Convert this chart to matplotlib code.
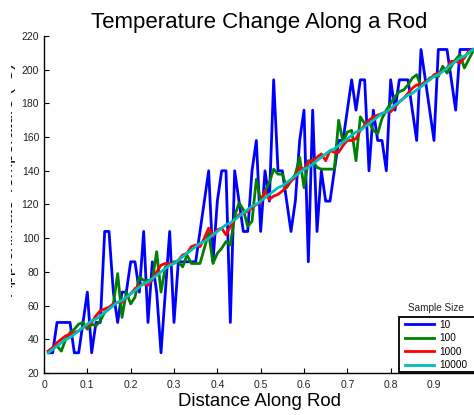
import numpy as np
import matplotlib
matplotlib.use("Agg")
import matplotlib.pyplot as plt
from matplotlib.transforms import Bbox
from matplotlib.patches import Rectangle

plt.rcParams['font.family'] = ['Liberation Sans', 'DejaVu Sans']

# ---- data -------------------------------------------------------------
distance = np.arange(1, 100) / 100.0

temp_n10 = [32, 32, 50, 50, 50, 50, 32, 32, 50, 68,
            32, 50, 50, 104, 104, 68, 50, 68, 68, 86,
            86, 68, 104, 50, 86, 68, 32, 68, 104, 50,
            86, 86, 86, 86, 86, 104, 122, 140, 86, 122,
            140, 140, 50, 140, 122, 104, 104, 140, 158, 104,
            140, 122, 194, 140, 140, 122, 104, 122, 158, 176,
            86, 176, 104, 140, 122, 122, 140, 158, 158, 176,
            194, 176, 194, 194, 140, 176, 158, 158, 140, 194,
            176, 194, 194, 194, 176, 158, 212, 194, 176, 158,
            212, 212, 212, 194, 176, 212, 212, 212, 212]

temp_n100 = [33, 35, 36, 33, 40, 44, 46, 49, 50, 46,
             49, 48, 51, 56, 58, 61, 79, 53, 68, 61,
             65, 77, 75, 75, 75, 92, 68, 83, 84, 86,
             86, 83, 90, 85, 85, 85, 94, 103, 85, 91,
             94, 98, 96, 113, 121, 117, 107, 110, 135, 122,
             128, 133, 141, 138, 138, 130, 134, 138, 148, 130,
             146, 146, 142, 141, 141, 141, 141, 170, 157, 163,
             164, 146, 172, 168, 169, 164, 162, 171, 176, 180,
             184, 187, 188, 191, 195, 197, 190, 192, 195, 196,
             196, 202, 198, 202, 206, 209, 201, 206, 211]

temp_n1000 = [33, 35, 38, 40, 42, 43, 44, 45, 47, 48,
              50, 54, 57, 58, 59, 61, 62, 62, 65, 67,
              70, 72, 73, 72, 76, 80, 84, 85, 85, 85,
              87, 90, 91, 95, 96, 95, 100, 106, 101, 105,
              106, 102, 107, 111, 114, 115, 116, 118, 120, 121,
              128, 123, 125, 126, 128, 131, 134, 136, 142, 141,
              145, 146, 148, 150, 146, 152, 151, 151, 155, 158,
              158, 159, 164, 167, 170, 172, 173, 174, 175, 175,
              178, 181, 183, 186, 189, 191, 191, 193, 194, 197,
              198, 199, 201, 205, 205, 204, 207, 211, 212]

temp_n10000 = [32, 34, 36, 38, 40, 41, 43, 45, 47, 49,
               51, 52, 54, 56, 58, 60, 62, 63, 65, 67,
               69, 71, 73, 74, 76, 78, 80, 82, 84, 85,
               87, 89, 91, 93, 95, 97, 98, 100, 102, 104,
               106, 108, 109, 111, 113, 115, 117, 119, 120, 122,
               124, 126, 128, 130, 131, 133, 135, 137, 139, 141,
               142, 144, 146, 148, 150, 152, 153, 155, 157, 159,
               161, 163, 164, 166, 168, 170, 172, 174, 175, 177,
               179, 181, 183, 185, 186, 188, 190, 192, 194, 196,
               197, 199, 201, 203, 205, 207, 208, 210, 212]

series_labels = ['10', '100', '1000', '10000']
series_colors = ['#0000ff', '#008000', '#ff0000', '#00bfbf']

yticks = list(range(20, 221, 20))
xticks = [0, 0.1, 0.2, 0.3, 0.4, 0.5, 0.6, 0.7, 0.8, 0.9]
xticklabels = ['0', '0.1', '0.2', '0.3', '0.4', '0.5', '0.6', '0.7', '0.8', '0.9']

# ---- figure -----------------------------------------------------------
W, H = 474, 415
fig = plt.figure(figsize=(W / 100, H / 100), dpi=100)
ax = fig.add_axes([44 / W, 1 - 373 / H, (W - 44) / W, (373 - 36) / H])

for vals, lab, col in zip([temp_n10, temp_n100, temp_n1000, temp_n10000],
                          series_labels, series_colors):
    ax.plot(distance, vals, color=col, lw=2.0, label=lab)

ax.set_xlim(0, 0.9923)
ax.set_ylim(20, 220)
ax.set_yticks(yticks)
ax.set_xticks(xticks)
ax.set_xticklabels(xticklabels)

for s in ['top', 'right']:
    ax.spines[s].set_visible(False)
for s in ['left', 'bottom']:
    ax.spines[s].set_linewidth(1.0)
    ax.spines[s].set_color('black')
ax.tick_params(direction='in', length=3.6, width=0.8, labelsize=7.5,
               colors='black', labelcolor='#222222')
ax.tick_params(axis='x', pad=5)
ax.tick_params(axis='y', pad=3.5)

ax.set_title('Temperature Change Along a Rod', fontsize=16, pad=5.5)
ax.set_xlabel('Distance Along Rod', fontsize=13.4, labelpad=2)

# y label: only a sliver of it is visible at the left edge in the reference
ylab = ax.set_ylabel('Approximate Temperature (°C)', fontsize=12.3)
ax.yaxis.set_label_coords((16 - 44) / (W - 44), (373 - 180) / (373 - 36))
ylab.set_clip_on(True)
ylab.set_clip_box(Bbox([[10.5, 0], [16, H]]))

# legend: box drawn separately (its right edge runs off the figure)
box = Rectangle((399 / W, 1 - 372.3 / H), (478 - 399) / W, (372.3 - 316.7) / H,
                transform=fig.transFigure, facecolor='white', edgecolor='black',
                lw=1.3, clip_on=False, zorder=4)
ax.add_patch(box)
leg = ax.legend(loc='upper left', bbox_to_anchor=(405 / W, 1 - 319.5 / H),
                bbox_transform=fig.transFigure, fontsize=7.2, frameon=False,
                borderpad=0, labelspacing=0.36, handlelength=2.9,
                handletextpad=0.5, borderaxespad=0)
leg.set_zorder(5)
fig.text(436 / W, 1 - 307.5 / H, 'Sample Size', fontsize=7.2,
         ha='center', va='center', color='#222222')

fig.savefig('out.png', dpi=100)
